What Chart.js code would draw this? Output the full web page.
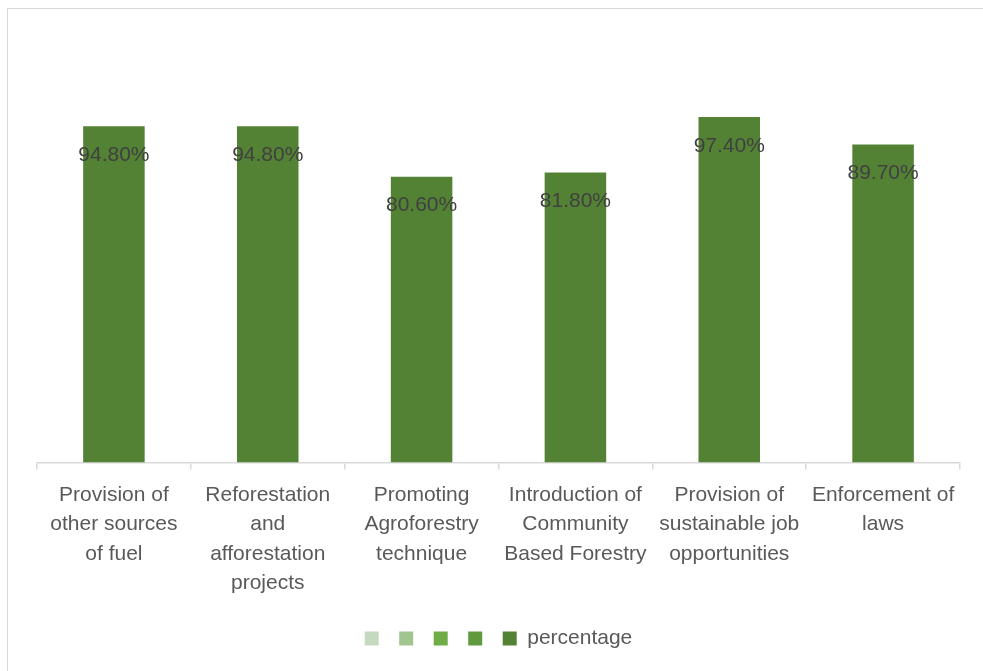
<!DOCTYPE html>
<html>
<head>
<meta charset="utf-8">
<script src="https://cdn.jsdelivr.net/npm/chart.js@4/dist/chart.umd.min.js"></script>
<style>
  html, body { margin: 0; padding: 0; background: #fff; overflow: hidden; }
  #frame { position: absolute; left: 7px; top: 8px; width: 1000px; height: 700px; border: 1px solid #d9d9d9; }
  #chart { position: absolute; left: 0; top: 0; }
</style>
</head>
<body>
<div id="frame"></div>
<canvas id="chart" width="983" height="671"></canvas>
<script>
// categories (already split into lines like the original)
var categories = [
  ['Provision of', 'other sources', 'of fuel'],
  ['Reforestation', 'and', 'afforestation', 'projects'],
  ['Promoting', 'Agroforestry', 'technique'],
  ['Introduction of', 'Community', 'Based Forestry'],
  ['Provision of', 'sustainable job', 'opportunities'],
  ['Enforcement of', 'laws']
];
var percentage = [94.8, 94.8, 80.6, 81.8, 97.4, 89.7];
// empty series that only show up in the legend
var blankSeries = ['', '', '', ''];
var blankColors = ['#c5d9be', '#a2c48f', '#70ad47', '#5f9a3e'];
var barColor = '#548235';

var datasets = [];
blankSeries.forEach(function (name, i) {
  datasets.push({ label: name, data: categories.map(function () { return null; }), backgroundColor: blankColors[i] });
});
datasets.push({ label: 'percentage', data: percentage, backgroundColor: barColor });

Chart.defaults.font.family = "'Liberation Sans', Arial, sans-serif";

// simple inside-end data labels
var valueLabels = {
  id: 'valueLabels',
  afterDatasetsDraw: function (chart) {
    var ctx = chart.ctx;
    ctx.save();
    ctx.font = "21px 'Liberation Sans', Arial, sans-serif";
    ctx.fillStyle = '#404040';
    ctx.textAlign = 'center';
    ctx.textBaseline = 'middle';
    chart.data.datasets.forEach(function (ds, di) {
      var meta = chart.getDatasetMeta(di);
      meta.data.forEach(function (bar, i) {
        var v = ds.data[i];
        if (v == null) return;
        ctx.fillText(v.toFixed(2) + '%', bar.x, bar.y + 29);
      });
    });
    ctx.restore();
  }
};

new Chart(document.getElementById('chart'), {
  type: 'bar',
  data: { labels: categories, datasets: datasets },
  options: {
    responsive: false,
    animation: false,
    grouped: false,
    categoryPercentage: 0.4,
    barPercentage: 1,
    layout: { padding: { left: 37, right: 23, top: 37, bottom: 12 } },
    plugins: {
      tooltip: { enabled: false },
      legend: {
        position: 'bottom',
        labels: { boxWidth: 14, boxHeight: 14, padding: 10, color: '#595959', font: { size: 21 } }
      }
    },
    scales: {
      y: { display: false, min: 0, max: 120 },
      x: {
        afterFit: function (scale) { scale.height += 9; },
        grid: { drawOnChartArea: false, drawTicks: true, tickLength: 7, color: '#d9d9d9', lineWidth: 1.5 },
        border: { color: '#d9d9d9', width: 1.5 },
        ticks: { color: '#595959', font: { size: 21, lineHeight: 1.4 }, padding: 11, maxRotation: 0, autoSkip: false }
      }
    }
  },
  plugins: [valueLabels]
});
</script>
</body>
</html>
